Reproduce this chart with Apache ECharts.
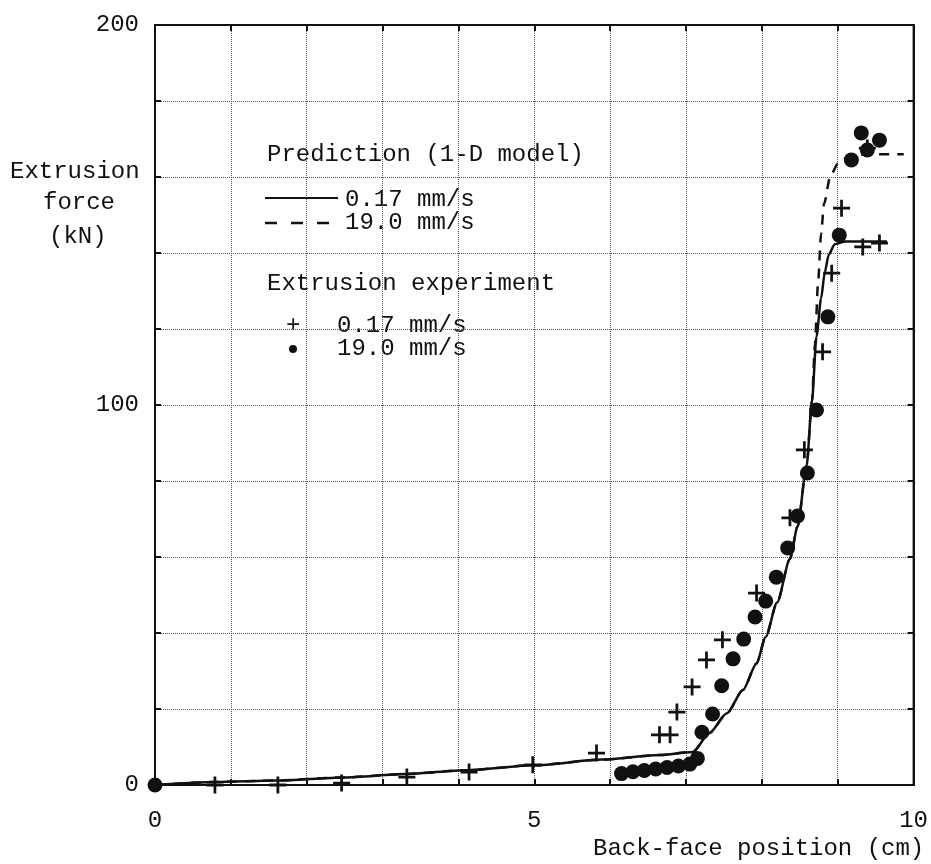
<!DOCTYPE html>
<html>
<head>
<meta charset="utf-8">
<script src="https://cdn.jsdelivr.net/npm/echarts@6/dist/echarts.min.js"></script>
<style>
html,body{margin:0;padding:0;background:#fff;}
#chart{width:931px;height:864px;}
</style>
</head>
<body>
<div id="chart"></div>
<script>
// Prediction (1-D model), 0.17 mm/s  [position cm, force kN]
const predSlow = [[0,0],[0.8,0.8],[1.6,1.2],[2.5,2.0],[3.3,2.9],[4.1,3.9],[5.0,5.2],[5.9,6.7],[6.65,7.9],[7.09,8.7],[7.31,13.7],[7.54,18.9],[7.75,25],[7.93,32],[8.05,39],[8.2,48],[8.37,59.5],[8.47,68],[8.59,84],[8.66,101],[8.72,118],[8.78,128],[8.83,135],[8.88,139.5],[8.96,142.3],[9.1,143],[9.65,143]];
// Prediction (1-D model), 19.0 mm/s
const predFast = [[0,0],[0.8,0.8],[1.6,1.2],[2.5,2.0],[3.3,2.9],[4.1,3.9],[5.0,5.2],[5.9,6.7],[6.65,7.9],[7.09,8.7],[7.31,13.7],[7.54,18.9],[7.75,25],[7.93,32],[8.05,39],[8.2,48],[8.37,59.5],[8.47,68],[8.59,84],[8.66,101],[8.70,116],[8.74,132],[8.78,145],[8.82,153],[8.9,160],[9.0,163.5],[9.15,165.5],[9.4,166],[9.87,166]];
// Extrusion experiment, 0.17 mm/s
const expSlow = [[0.79,0],[1.62,0],[2.46,0.5],[3.32,2.1],[4.14,3.4],[4.98,5.3],[5.82,8.4],[6.65,13.2],[6.79,13.2],[6.88,19.2],[7.08,25.8],[7.27,32.9],[7.48,38.2],[7.93,50.5],[8.37,70.3],[8.56,88.2],[8.80,114],[8.92,134.7],[9.05,151.8],[9.33,141.6],[9.55,142.6],[9.39,167.6]];
// Extrusion experiment, 19.0 mm/s
const expFast = [[0,0],[6.15,3.0],[6.3,3.5],[6.45,3.8],[6.6,4.2],[6.75,4.6],[6.9,5.0],[7.05,5.5],[7.15,7.0],[7.21,13.9],[7.35,18.7],[7.47,26.1],[7.62,33.2],[7.76,38.4],[7.91,44.2],[8.05,48.4],[8.19,54.7],[8.34,62.4],[8.47,70.8],[8.60,82.1],[8.72,98.7],[8.87,123.2],[9.02,144.7],[9.18,164.5],[9.31,171.6],[9.39,167.1],[9.55,169.7]];
const xTickLabels = [0,5,10];
const yTickLabels = [0,100,200];

const FONT = '"Liberation Mono", "DejaVu Sans Mono", monospace';
const INK = '#111';
const plusPath = 'path://M0,6.7H16V9.3H0ZM6.7,0H9.3V16H6.7Z';

const chart = echarts.init(document.getElementById('chart'), null, {renderer:'canvas'});

const baseAxis = {
  type:'value',
  axisLine:{show:true, onZero:false, lineStyle:{color:INK, width:2}},
  axisTick:{show:true, inside:true, length:6, lineStyle:{color:INK, width:2}},
};

const option = {
  animation:false,
  backgroundColor:'#fff',
  grid:{left:155, right:17, top:25, bottom:79, show:true, borderColor:INK, borderWidth:2},
  xAxis:[
    Object.assign({}, baseAxis, {
      min:0, max:10, interval:1, position:'bottom',
      axisLabel:{show:true, margin:24, fontFamily:FONT, fontSize:24, color:INK,
        formatter:v => xTickLabels.includes(v) ? String(v) : ''},
      splitLine:{show:true, lineStyle:{type:'dotted', color:'#555', width:1}}
    }),
    Object.assign({}, baseAxis, {
      min:0, max:10, interval:1, position:'top',
      axisLabel:{show:false}, splitLine:{show:false}
    })
  ],
  yAxis:[
    Object.assign({}, baseAxis, {
      min:0, max:200, interval:20, position:'left',
      axisLabel:{show:true, margin:16, fontFamily:FONT, fontSize:24, color:INK,
        formatter:v => yTickLabels.includes(v) ? String(v) : ''},
      splitLine:{show:true, lineStyle:{type:'dotted', color:'#555', width:1}}
    }),
    Object.assign({}, baseAxis, {
      min:0, max:200, interval:20, position:'right',
      axisLabel:{show:false}, splitLine:{show:false}
    })
  ],
  series:[
    {name:'pred 0.17', type:'line', data:predSlow, showSymbol:false, smooth:0.25, smoothMonotone:'x',
      lineStyle:{color:INK, width:2.5}, z:3},
    {name:'pred 19.0', type:'line', data:predFast, showSymbol:false, smooth:0.25, smoothMonotone:'x',
      lineStyle:{color:INK, width:2.5, type:[10,8]}, z:3},
    {name:'exp 0.17', type:'scatter', data:expSlow, symbol:plusPath, symbolSize:17,
      itemStyle:{color:INK, opacity:1}, z:5},
    {name:'exp 19.0', type:'scatter', data:expFast, symbol:'circle', symbolSize:15,
      itemStyle:{color:INK, opacity:1}, z:4}
  ],
  graphic:[
    // y axis title
    {type:'text', left:10, top:160, style:{text:'Extrusion', font:'24px '+FONT, fill:INK}},
    {type:'text', left:43, top:191, style:{text:'force', font:'24px '+FONT, fill:INK}},
    {type:'text', left:49, top:225, style:{text:'(kN)', font:'24px '+FONT, fill:INK}},
    // x axis title
    {type:'text', left:593, top:837, style:{text:'Back-face position (cm)', font:'24px '+FONT, fill:INK}},
    // legend
    {type:'text', left:267, top:143, style:{text:'Prediction (1-D model)', font:'24px '+FONT, fill:INK}},
    {type:'line', shape:{x1:265, y1:198, x2:338, y2:198}, style:{stroke:INK, lineWidth:2}},
    {type:'text', left:345, top:188, style:{text:'0.17 mm/s', font:'24px '+FONT, fill:INK}},
    {type:'line', shape:{x1:265, y1:223, x2:331, y2:223}, style:{stroke:INK, lineWidth:2.5, lineDash:[12,14]}},
    {type:'text', left:345, top:211, style:{text:'19.0 mm/s', font:'24px '+FONT, fill:INK}},
    {type:'text', left:267, top:272, style:{text:'Extrusion experiment', font:'24px '+FONT, fill:INK}},
    {type:'text', left:286, top:314, style:{text:'+', font:'24px '+FONT, fill:INK}},
    {type:'text', left:337, top:314, style:{text:'0.17 mm/s', font:'24px '+FONT, fill:INK}},
    {type:'circle', shape:{cx:293, cy:349, r:4}, style:{fill:INK}},
    {type:'text', left:337, top:337, style:{text:'19.0 mm/s', font:'24px '+FONT, fill:INK}}
  ]
};
chart.setOption(option);
</script>
</body>
</html>
